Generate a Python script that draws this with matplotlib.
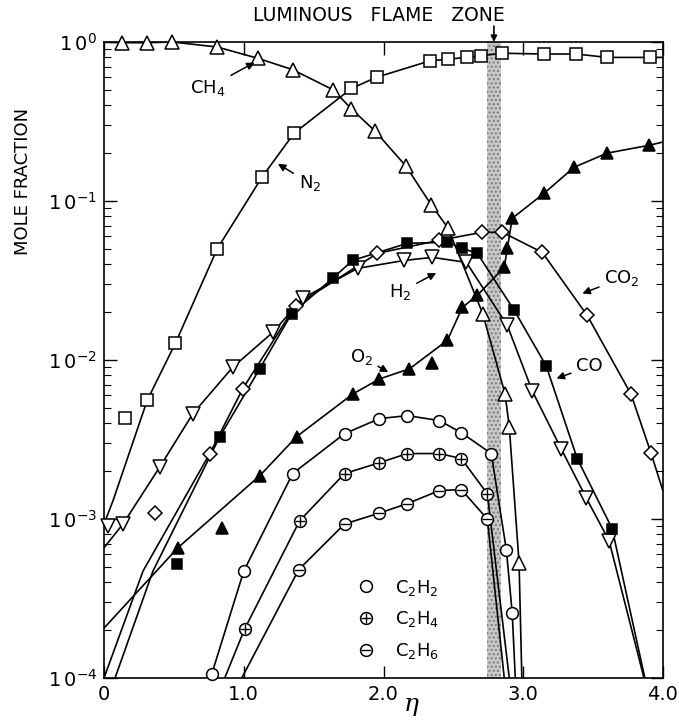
import matplotlib
matplotlib.use("Agg")
import matplotlib.pyplot as plt
from matplotlib.lines import Line2D
from matplotlib.legend_handler import HandlerTuple

plt.rcParams["font.family"] = ["DejaVu Sans"]
plt.rcParams["mathtext.fontset"] = "dejavusans"

# ---- data (eta, mole fraction) ----
ch4_eta = [0.13, 0.31, 0.49, 0.81, 1.10, 1.35, 1.64, 1.77, 1.94, 2.16, 2.34, 2.46,
           2.71, 2.87, 2.90, 2.97]
ch4_frac = [0.99, 0.99, 1.0, 0.93, 0.79, 0.67, 0.50, 0.38, 0.275, 0.166, 0.095, 0.068,
            0.0196, 0.0061, 0.0038, 0.00053]
ch4_curve_eta = [0.0] + ch4_eta + [2.99]
ch4_curve_frac = [1.0] + ch4_frac + [1e-4]

n2_eta = [0.15, 0.31, 0.51, 0.81, 1.13, 1.36, 1.77, 1.95, 2.33, 2.46, 2.60, 2.70,
          2.85, 3.15, 3.38, 3.60, 3.91]
n2_frac = [0.0043, 0.0056, 0.0127, 0.050, 0.141, 0.267, 0.51, 0.60, 0.76, 0.78, 0.80,
           0.82, 0.85, 0.84, 0.84, 0.80, 0.80]
n2_curve_eta = [0.0, 0.064] + n2_eta[1:] + [4.0]
n2_curve_frac = [9.3e-4, 1.3e-3] + n2_frac[1:] + [0.80]

h2_eta = [0.03, 0.136, 0.40, 0.636, 0.921, 1.207, 1.421, 1.814, 2.15, 2.35, 2.593,
          2.886, 3.064, 3.271, 3.45, 3.614]
h2_frac = [9.1e-4, 9.3e-4, 2.13e-3, 4.6e-3, 9.0e-3, 0.0149, 0.0244, 0.0377, 0.0423,
           0.0442, 0.0411, 0.0165, 6.4e-3, 2.77e-3, 1.36e-3, 7.3e-4]
h2_curve_eta = [0.0] + h2_eta[1:] + [3.864]
h2_curve_frac = [6.6e-4] + h2_frac[1:] + [1e-4]

co2_eta = [0.364, 0.757, 0.993, 1.371, 1.957, 2.40, 2.707, 2.85, 3.136, 3.457, 3.771, 3.914]
co2_frac = [1.09e-3, 2.58e-3, 6.6e-3, 0.022, 0.0469, 0.0566, 0.0636, 0.0636, 0.0475,
            0.0191, 6.1e-3, 2.6e-3]
co2_curve_eta = [0.0, 0.279] + co2_eta[1:] + [4.0]
co2_curve_frac = [1e-4, 4.7e-4] + co2_frac[1:] + [1.5e-3]

co_eta = [0.521, 0.829, 1.114, 1.343, 1.636, 1.779, 2.171, 2.457, 2.564, 2.671, 2.936,
          3.164, 3.386, 3.636]
co_frac = [5.2e-4, 3.3e-3, 8.8e-3, 0.0196, 0.0326, 0.0423, 0.0542, 0.055, 0.0504,
           0.0469, 0.0205, 9.2e-3, 2.4e-3, 8.7e-4]
co_curve_eta = [0.079, 0.35] + co_eta[1:] + [3.87]
co_curve_frac = [1e-4, 4.7e-4] + co_frac[1:] + [1e-4]

o2_eta = [0.529, 0.843, 1.114, 1.379, 1.779, 1.971, 2.186, 2.35, 2.457, 2.564, 2.671,
          2.864, 2.886, 2.921, 3.15, 3.364, 3.60, 3.90]
o2_frac = [6.6e-4, 8.8e-4, 1.87e-3, 3.3e-3, 6.1e-3, 7.6e-3, 8.8e-3, 9.6e-3, 0.0133,
           0.0214, 0.0255, 0.0383, 0.0504, 0.0778, 0.112, 0.163, 0.20, 0.224]
o2_curve_eta = [0.0] + [0.529] + o2_eta[2:7] + o2_eta[8:] + [4.0]
o2_curve_frac = [2.06e-4] + [6.6e-4] + o2_frac[2:7] + o2_frac[8:] + [0.235]

c2h2_eta = [0.771, 1.0, 1.35, 1.721, 1.971, 2.171, 2.40, 2.557, 2.771, 2.879, 2.921]
c2h2_frac = [1.06e-4, 4.7e-4, 1.93e-3, 3.44e-3, 4.28e-3, 4.47e-3, 4.16e-3, 3.49e-3,
             2.58e-3, 6.4e-4, 2.57e-4]
c2h2_curve_eta = [0.743] + c2h2_eta + [2.943]
c2h2_curve_frac = [1e-4] + c2h2_frac + [1e-4]

c2h4_eta = [1.007, 1.40, 1.721, 1.971, 2.171, 2.40, 2.557, 2.743]
c2h4_frac = [2.04e-4, 9.75e-4, 1.93e-3, 2.26e-3, 2.58e-3, 2.58e-3, 2.4e-3, 1.44e-3]
c2h4_curve_eta = [0.864] + c2h4_eta + [2.90]
c2h4_curve_frac = [1e-4] + c2h4_frac + [1e-4]

c2h6_eta = [1.393, 1.721, 1.971, 2.171, 2.40, 2.557, 2.743]
c2h6_frac = [4.8e-4, 9.3e-4, 1.09e-3, 1.25e-3, 1.51e-3, 1.53e-3, 1.0e-3]
c2h6_curve_eta = [0.986] + c2h6_eta + [2.864]
c2h6_curve_frac = [1e-4] + c2h6_frac + [1e-4]

flame_zone = (2.74, 2.84)

x_ticks = [0, 1, 2, 3, 4]
x_tick_labels = ["0", "1.0", "2.0", "3.0", "4.0"]
y_ticks = [1e-4, 1e-3, 1e-2, 1e-1, 1e0]
y_tick_labels = [r"$\mathregular{1\,0^{-4}}$", r"$\mathregular{1\,0^{-3}}$",
                 r"$\mathregular{1\,0^{-2}}$", r"$\mathregular{1\,0^{-1}}$",
                 r"$\mathregular{1\,0^{0}}$"]


def draw(ax, curve_x, curve_y, x, y, marker, filled=False, ms=8, inner=None):
    ax.plot(curve_x, curve_y, color="black", lw=1.2, zorder=2)
    face = "black" if filled else "white"
    ax.plot(x, y, ls="none", marker=marker, ms=ms, mfc=face, mec="black",
            mew=1.1, zorder=3, clip_on=False)
    if inner is not None:
        ax.plot(x, y, ls="none", marker=inner, ms=ms * 0.8, mec="black",
                mew=1.0, zorder=4, clip_on=False)


fig = plt.figure(figsize=(6.79, 7.24), dpi=100)
ax = fig.add_axes([104 / 679, 46 / 724, 559 / 679, 636 / 724])

ax.axvspan(*flame_zone, facecolor="#c8c8c8", edgecolor="#7a7a7a", hatch="....",
           lw=0, zorder=1)

draw(ax, ch4_curve_eta, ch4_curve_frac, ch4_eta, ch4_frac, "^", ms=9.5)
draw(ax, n2_curve_eta, n2_curve_frac, n2_eta, n2_frac, "s", ms=8)
draw(ax, h2_curve_eta, h2_curve_frac, h2_eta, h2_frac, "v", ms=9.5)
draw(ax, co2_curve_eta, co2_curve_frac, co2_eta, co2_frac, "D", ms=7.5)
draw(ax, co_curve_eta, co_curve_frac, co_eta, co_frac, "s", filled=True, ms=7.5)
draw(ax, o2_curve_eta, o2_curve_frac, o2_eta, o2_frac, "^", filled=True, ms=9)
draw(ax, c2h2_curve_eta, c2h2_curve_frac, c2h2_eta, c2h2_frac, "o", ms=8.5)
draw(ax, c2h4_curve_eta, c2h4_curve_frac, c2h4_eta, c2h4_frac, "o", ms=8.5, inner="+")
draw(ax, c2h6_curve_eta, c2h6_curve_frac, c2h6_eta, c2h6_frac, "o", ms=8.5, inner="_")

ax.set_yscale("log")
ax.set_xlim(0, 4)
ax.set_ylim(1e-4, 1)
ax.set_xticks(x_ticks)
ax.set_xticklabels(x_tick_labels, fontsize=14)
ax.set_yticks(y_ticks)
ax.set_yticklabels(y_tick_labels, fontsize=14)
ax.tick_params(which="major", direction="in", length=9, width=1, top=True, right=True,
               pad=5)
ax.tick_params(which="minor", direction="in", length=5, width=0.8, right=True)
ax.tick_params(axis="x", which="minor", bottom=False, top=False)
for side in ax.spines.values():
    side.set_linewidth(1.2)

ax.set_ylabel("MOLE FRACTION", fontsize=13)
ax.yaxis.set_label_coords(-0.128, 0.78)
ax.text(0.55, -0.042, "η", transform=ax.transAxes, ha="center", va="center",
        fontsize=18, family="DejaVu Serif", style="italic")

ax.text(0.492, 1.042, "LUMINOUS   FLAME   ZONE", transform=ax.transAxes,
        ha="center", va="center", fontsize=13.5)
ax.annotate("", xy=(sum(flame_zone) / 2, 1.0), xycoords=("data", "axes fraction"),
            xytext=(sum(flame_zone) / 2, 1.025), textcoords=("data", "axes fraction"),
            arrowprops=dict(arrowstyle="-|>", color="black", lw=1.2,
                            shrinkA=0, shrinkB=0, mutation_scale=9))

arrow = dict(arrowstyle="-|>", color="black", lw=1.1, shrinkA=2, shrinkB=1,
             mutation_scale=11)
labels = [
    ("CH$_4$", (1.086, 0.75), (0.186, 0.928)),
    ("N$_2$", (1.236, 0.173), (0.368, 0.778)),
    ("H$_2$", (2.386, 0.0356), (0.53, 0.607)),
    ("O$_2$", (2.043, 8.3e-3), (0.46, 0.505)),
    ("CO", (3.229, 7.6e-3), (0.869, 0.49)),
    ("CO$_2$", (3.414, 0.026), (0.927, 0.629)),
]
for text, xy, xytext in labels:
    ax.annotate(text, xy=xy, xytext=xytext, textcoords="axes fraction",
                ha="center", va="center", fontsize=13, arrowprops=arrow)

h_c2h2 = Line2D([], [], ls="none", marker="o", ms=8.5, mfc="white", mec="black", mew=1.1)
h_plus = Line2D([], [], ls="none", marker="+", ms=6.8, mec="black", mew=1.0)
h_minus = Line2D([], [], ls="none", marker="_", ms=6.8, mec="black", mew=1.0)
ax.legend([h_c2h2, (h_c2h2, h_plus), (h_c2h2, h_minus)],
          ["C$_2$H$_2$", "C$_2$H$_4$", "C$_2$H$_6$"],
          handler_map={tuple: HandlerTuple(ndivide=1)},
          loc="upper left", bbox_to_anchor=(0.45, 0.158), frameon=False,
          fontsize=13, handlelength=1.2, handletextpad=1.0, labelspacing=0.65,
          borderpad=0, borderaxespad=0)

fig.savefig("out.png", dpi=100)
